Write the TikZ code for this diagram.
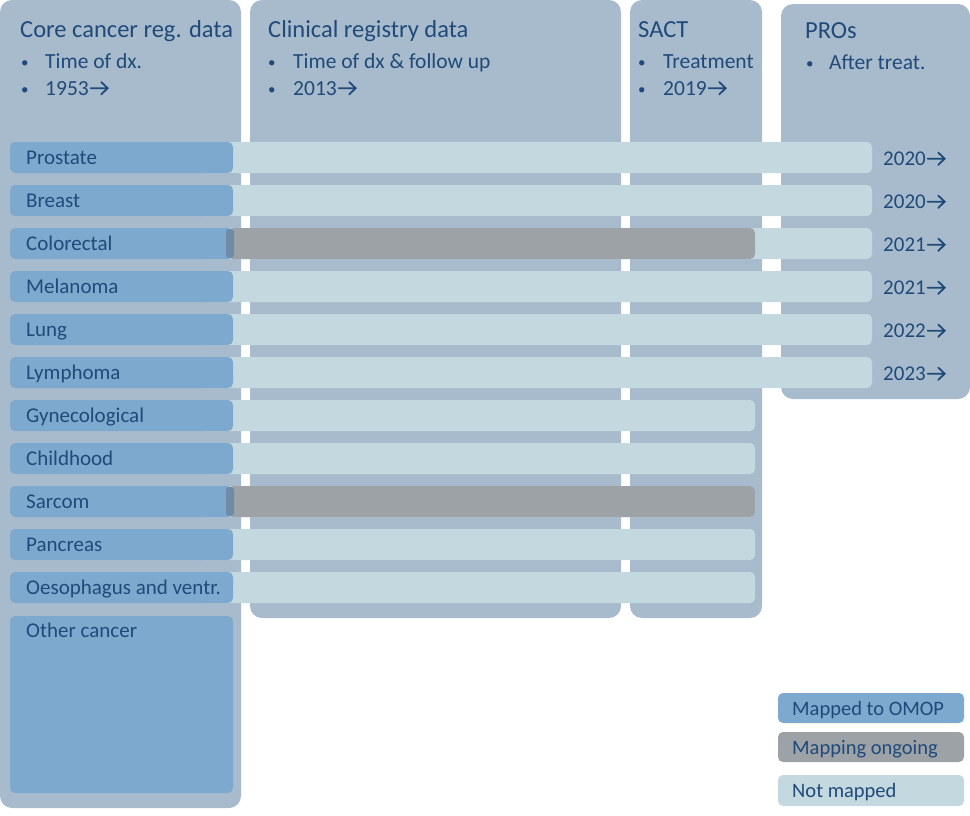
\documentclass[tikz,border=0pt]{standalone}
\usepackage{fontspec}
\setmainfont{Carlito}
\definecolor{panelc}{HTML}{A8BBCC}
\definecolor{mapc}{HTML}{7EA9CE}
\definecolor{lightc}{HTML}{C4D8DF}
\definecolor{grayc}{HTML}{9DA2A7}
\definecolor{slivc}{HTML}{6E8CA8}
\definecolor{navy}{HTML}{1F4A7A}
\newcommand{\rarr}{\kern1pt\tikz[baseline=0pt]{\draw[navy, line width=1.8pt, line cap=round, line join=miter] (0pt,6.8pt) -- (17pt,6.8pt) (10.5pt,0.6pt) -- (17pt,6.8pt) -- (10.5pt,13pt);}}
\newcommand{\bdot}{{\fontsize{15}{18}\selectfont •}}
\tikzset{
  panel/.style={fill=panelc, rounded corners=12pt},
  lightbar/.style={fill=lightc, rounded corners=5pt},
  graybar/.style={fill=grayc, rounded corners=5pt},
  mapbar/.style={fill=mapc, rounded corners=5pt},
  sliver/.style={fill=slivc, rounded corners=3pt},
  lbl/.style={anchor=base west, inner sep=0pt, text=navy, font=\fontsize{21}{25}\selectfont},
  ttl/.style={anchor=base west, inner sep=0pt, text=navy, font=\fontsize{24.5}{29}\selectfont},
  bul/.style={anchor=base west, inner sep=0pt, text=navy, font=\fontsize{21.5}{26}\selectfont},
  yr/.style={anchor=base west, inner sep=0pt, text=navy, font=\fontsize{21}{25}\selectfont},
  leg/.style={anchor=base west, inner sep=0pt, text=navy, font=\fontsize{20.5}{24}\selectfont},
}
\begin{document}
\begin{tikzpicture}[x=1pt,y=-1pt]
\useasboundingbox (0,0) rectangle (970,815);
% panels
\fill[panel] (0,0) rectangle (241,808);
\fill[panel] (250,0) rectangle (621,618);
\fill[panel] (630,0) rectangle (762,618);
\fill[panel] (781,4) rectangle (970,399);
% panel titles
\node[ttl] (t1) at (20,37) {Core cancer reg. data};
\node[bul] (b1a) at (21,67) {\bdot};
\node[bul] (b1at) at (45,68) {Time of dx.};
\node[bul] (b1b) at (21,94) {\bdot};
\node[bul] (b1bt) at (45,95) {1953\rarr};
\node[ttl] (t2) at (268,37) {Clinical registry data};
\node[bul] (b2a) at (268,67) {\bdot};
\node[bul] (b2at) at (293,68) {Time of dx \& follow up};
\node[bul] (b2b) at (268,94) {\bdot};
\node[bul] (b2bt) at (293,95) {2013\rarr};
\node[ttl] (t3) at (638,37) {SACT};
\node[bul] (b3a) at (638,67) {\bdot};
\node[bul] (b3at) at (663,68) {Treatment};
\node[bul] (b3b) at (638,94) {\bdot};
\node[bul] (b3bt) at (663,95) {2019\rarr};
\node[ttl] (t4) at (805,38) {PROs};
\node[bul] (b4a) at (806,68) {\bdot};
\node[bul] (b4at) at (829,69) {After treat.};
% rows
\foreach \i/\name/\xend/\g in {1/Prostate/872/0, 2/Breast/872/0, 3/Colorectal/872/1, 4/Melanoma/872/0, 5/Lung/872/0, 6/Lymphoma/872/0, 7/Gynecological/755/0, 8/Childhood/755/0, 9/Sarcom/755/1, 10/Pancreas/755/0, 11/Oesophagus and ventr./755/0}{
  \pgfmathsetmacro\ytop{142+43*(\i-1)}
  \fill[lightbar] (200,\ytop) rectangle (\xend,{\ytop+31});
  \fill[mapbar] (10,\ytop) rectangle (233,{\ytop+31});
  \ifnum\g=1
    \fill[graybar] (228,\ytop) rectangle (755,{\ytop+31});
    \fill[sliver] (226,{\ytop+1}) rectangle (234,{\ytop+30});
  \fi
  \node[lbl] (row\i) at (26,{\ytop+22}) {\name};
}
\foreach \i/\yy in {1/2020, 2/2020, 3/2021, 4/2021, 5/2022, 6/2023}{
  \pgfmathsetmacro\ytop{142+43*(\i-1)}
  \node[yr] (yr\i) at (883,{\ytop+23.5}) {\yy\rarr};
}
% other cancer
\fill[mapbar] (10,616) rectangle (233,793);
\node[lbl] (other) at (26,637) {Other cancer};
% legend
\fill[mapbar] (778,693) rectangle (964,723);
\node[leg] (l1) at (792,715) {Mapped to OMOP};
\fill[graybar] (778,732) rectangle (964,762);
\node[leg] (l2) at (792,754) {Mapping ongoing};
\fill[lightbar] (778,775) rectangle (964,806);
\node[leg] (l3) at (792,797) {Not mapped};
\end{tikzpicture}
\end{document}
